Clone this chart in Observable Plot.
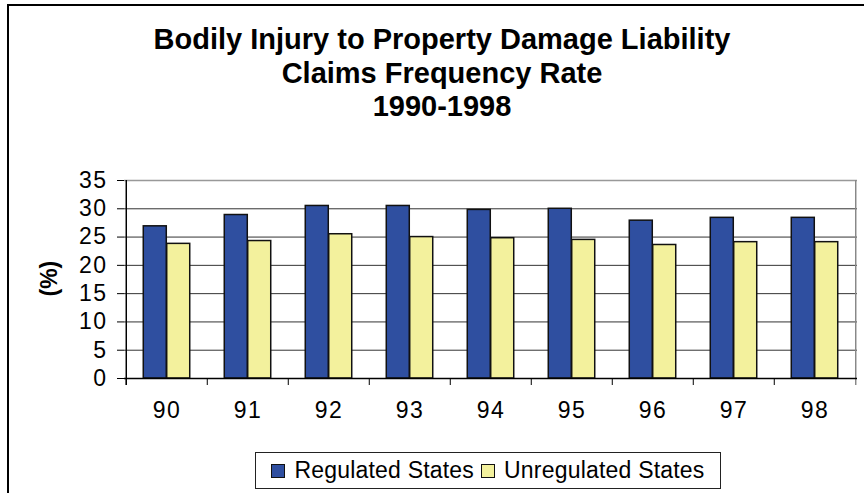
<!DOCTYPE html>
<html>
<head>
<meta charset="utf-8">
<script src="https://cdn.jsdelivr.net/npm/d3@7"></script>
<script src="https://cdn.jsdelivr.net/npm/@observablehq/plot@0.6"></script>
<style>
  html, body { margin: 0; padding: 0; background: #fff; }
  #wrap { position: relative; width: 864px; height: 493px; overflow: hidden; background: #fff;
          font-family: "Liberation Sans", Arial, sans-serif; }
  #border { position: absolute; left: 7px; top: 4px; right: -10px; bottom: -10px;
            border-left: 2px solid #000; border-top: 2px solid #000; }
  #title { position: absolute; left: 0; width: 884px; top: 23px; text-align: center;
           font-weight: bold; font-size: 29px; line-height: 33.5px; color: #000; }
  #chart { position: absolute; left: 0; top: 0; }
  #chart g[aria-label="y-axis tick label"] text,
  #chart g[aria-label="x-axis tick label"] text { letter-spacing: 1.5px; }
  #legend { position: absolute; left: 255px; top: 452px; width: 466px; height: 37px;
            border: 1px solid #222; box-sizing: border-box; display: flex; align-items: center;
            justify-content: center; font-size: 23px; color: #000; gap: 7px; letter-spacing: 0.2px; }
  .item { display: flex; align-items: center; gap: 9px; }
  .sw { width: 14px; height: 14px; border: 1.5px solid #111; box-sizing: border-box; }
</style>
</head>
<body>
<div id="wrap">
  <div id="border"></div>
  <div id="chart"></div>
  <div id="title"></div>
  <div id="legend"></div>
</div>
<script>
const titleLines = ["Bodily Injury to Property Damage Liability", "Claims Frequency Rate", "1990-1998"];
const years = ["90", "91", "92", "93", "94", "95", "96", "97", "98"];
const regulated = [26.9, 28.9, 30.5, 30.5, 29.8, 30.0, 27.9, 28.4, 28.4];
const unregulated = [23.8, 24.3, 25.5, 25.0, 24.8, 24.5, 23.6, 24.1, 24.1];
const seriesNames = ["Regulated States", "Unregulated States"];
const seriesColors = ["#2f4fa0", "#f3f19d"];
const yTicks = [0, 5, 10, 15, 20, 25, 30, 35];
const yLabel = "(%)";

const W = 864, H = 493, mL = 124, mR = 7, mT = 180, mB = 115;
const bw = (W - mL - mR) / years.length;
const barW = bw * 0.288;
const gap = (bw - 2 * barW) / 2;

const data = years.map((y, i) => ({year: y, regulated: regulated[i], unregulated: unregulated[i]}));

const chart = Plot.plot({
  width: W, height: H,
  marginLeft: mL, marginRight: mR, marginTop: mT, marginBottom: mB,
  style: {fontFamily: "'Liberation Sans', Arial, sans-serif", fontSize: "23px", color: "#000", background: "transparent"},
  x: {type: "band", domain: years, padding: 0, label: null},
  y: {domain: [0, 35], label: null},
  marks: [
    Plot.ruleY(yTicks.filter(v => v > 0 && v < 35), {stroke: "#333", strokeWidth: 1}),
    Plot.ruleY([35], {stroke: "#999", strokeWidth: 1.5}),
    Plot.ruleX([years[years.length - 1]], {x: d => d, dx: bw / 2, y1: 35, y2: 0, insetBottom: -7, stroke: "#888", strokeWidth: 1.5}),
    Plot.ruleX(years, {x: d => d, dx: -bw / 2, y1: 0, y2: 0, insetBottom: -7, stroke: "#000", strokeWidth: 1}),
    Plot.barY(data, {x: "year", y: "regulated", fill: seriesColors[0], stroke: "#111", strokeWidth: 1.5,
      insetLeft: gap, insetRight: gap + barW}),
    Plot.barY(data, {x: "year", y: "unregulated", fill: seriesColors[1], stroke: "#111", strokeWidth: 1.5,
      insetLeft: gap + barW, insetRight: gap}),
    Plot.ruleX([years[0]], {x: d => d, dx: -bw / 2, y1: 35, y2: 0, insetBottom: -7, stroke: "#000", strokeWidth: 1.5}),
    Plot.ruleY([0], {stroke: "#000", strokeWidth: 1.5}),
    Plot.axisY({ticks: yTicks, tickSize: 7, tickPadding: 10, stroke: "#000", fontSize: 23, label: null}),
    Plot.axisX({tickSize: 0, tickPadding: 23, fontSize: 23, label: null}),
    Plot.text([yLabel], {text: d => d, frameAnchor: "left", dx: -75, dy: 17, rotate: -90, fontWeight: "bold", fontSize: 23})
  ]
});
document.getElementById("chart").appendChild(chart);

document.getElementById("title").innerHTML = titleLines.map(t => `<div>${t}</div>`).join("");

document.getElementById("legend").innerHTML = seriesNames.map((n, i) =>
  `<div class="item"><div class="sw" style="background:${seriesColors[i]}"></div><span>${n}</span></div>`).join("");
</script>
</body>
</html>
